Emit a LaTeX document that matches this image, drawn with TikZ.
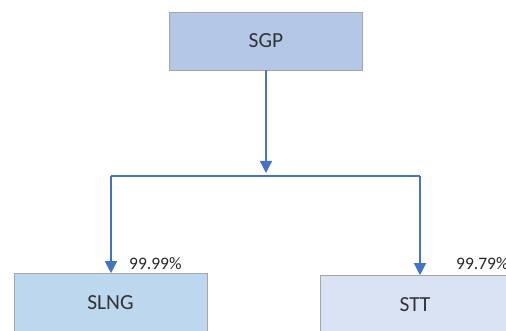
\documentclass[tikz,border=0pt]{standalone}
\usepackage{fontspec}
\setmainfont{Carlito}
\usetikzlibrary{arrows.meta}
\definecolor{linkblue}{HTML}{4472C4}
\definecolor{topfill}{HTML}{B4C7E7}
\definecolor{leftfill}{HTML}{BDD7EE}
\definecolor{rightfill}{HTML}{DAE3F3}
\definecolor{edgegray}{HTML}{A6A6A6}
\begin{document}
\begin{tikzpicture}[x=1pt,y=-1pt]

			\tikzstyle{entity}=[draw=edgegray,line width=0.6pt,
				minimum width=193pt,minimum height=58pt,
				inner sep=0pt,text=black!80,
				font=\fontsize{21.5}{24}\selectfont]
			\tikzstyle{share}=[anchor=west,inner sep=0pt,text=black!85,
				font=\fontsize{17.5}{20}\selectfont]
			\tikzstyle{link}=[draw=linkblue,line width=1.3pt]
			\tikzstyle{tip}=[-{Triangle[width=12pt,length=12pt]}]

			\useasboundingbox (0,0) rectangle (506,331);
			\clip (0,0) rectangle (506,331);

			\node[entity,fill=topfill]	(sgp)	at (266,41)	{SGP};
			\node[entity,fill=leftfill]	(slng)	at (110.5,302.5)	{SLNG};
			\node[entity,fill=rightfill,minimum width=190pt]	(stt)	at (415,304.5)	{STT};

			\coordinate (hub) at (266,173);
			\coordinate (lft) at (111,176);
			\coordinate (rgt) at (420,176);

			\draw[link,tip]	(sgp.south)  -- (hub);
			\draw[link]	(lft) -- (rgt);
			\draw[link,tip]	(lft) -- (lft |- slng.north);
			\draw[link,tip]	(rgt) -- (rgt |- stt.north);

				\node[share]	(p1)	at (129,264)	{99.99\%};
				\node[share]	(p2)	at (456,264)	{99.79\%};

		\end{tikzpicture}
\end{document}
